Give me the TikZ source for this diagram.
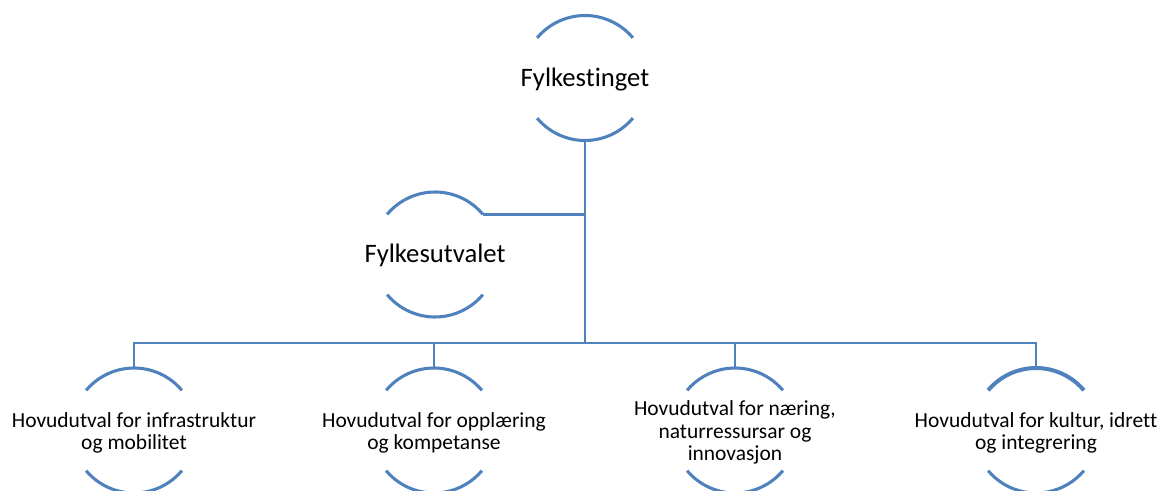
\documentclass[tikz,border=0pt]{standalone}
\usepackage{fontspec}
\setmainfont{Carlito}[Ligatures=CommonOff]
\definecolor{obl}{HTML}{4F81BD}
\newcommand{\RR}{46.875pt}
\newcommand{\twoarcs}[2][]{%
  \draw[arcline,#1] (#2.40) arc[start angle=40,end angle=140,radius=\RR];
  \draw[arcline] (#2.220) arc[start angle=220,end angle=320,radius=\RR];}
\tikzset{
  ring/.style={circle,minimum size=93.75pt,inner sep=0pt,outer sep=0pt},
  arcline/.style={draw=obl,line width=2.3pt},
  conn/.style={draw=obl,line width=2.2pt},
  bigtxt/.style={font=\fontsize{20}{23}\selectfont,text=black,inner sep=0pt},
  smalltxt/.style={font=\fontsize{16.1}{16.9}\selectfont,text=black,align=center,inner sep=0pt},
}
\begin{document}
\begin{tikzpicture}[x=0.75pt,y=0.75pt]
\useasboundingbox (0,0) rectangle (1159,490);
\node[ring,label={[bigtxt,yshift=-1.5pt]center:Fylkestinget}] (ting) at (585,412) {};
\node[ring,label={[bigtxt,yshift=-1pt]center:Fylkesutvalet}] (utv) at (435,235.5) {};
\node[ring,label={[smalltxt,yshift=-1.8pt]center:Hovudutval for infrastruktur\\og mobilitet}] (c1) at (134,59.5) {};
\node[ring,label={[smalltxt,yshift=-1.8pt]center:Hovudutval for opplæring\\og kompetanse}] (c2) at (434,59.5) {};
\node[ring,label={[smalltxt,yshift=-1.5pt]center:Hovudutval for næring,\\naturressursar og\\innovasjon}] (c3) at (735,59.5) {};
\node[ring,label={[smalltxt,yshift=-1.8pt]center:Hovudutval for kultur, idrett\\og integrering}] (c4) at (1036,59.5) {};
\twoarcs{ting}
\twoarcs{utv}
\twoarcs{c1}
\twoarcs{c2}
\twoarcs{c3}
\twoarcs[line width=3pt]{c4}
\coordinate (bus) at (585,147);
\draw[conn] (ting.south) -- (bus);
\draw[conn] (utv.40) -- (utv.40 -| ting.south);
\draw[conn] (c1.north) |- (bus) -| (c4.north);
\draw[conn] (c2.north) -- (c2.north |- bus);
\draw[conn] (c3.north) -- (c3.north |- bus);
\end{tikzpicture}
\end{document}
